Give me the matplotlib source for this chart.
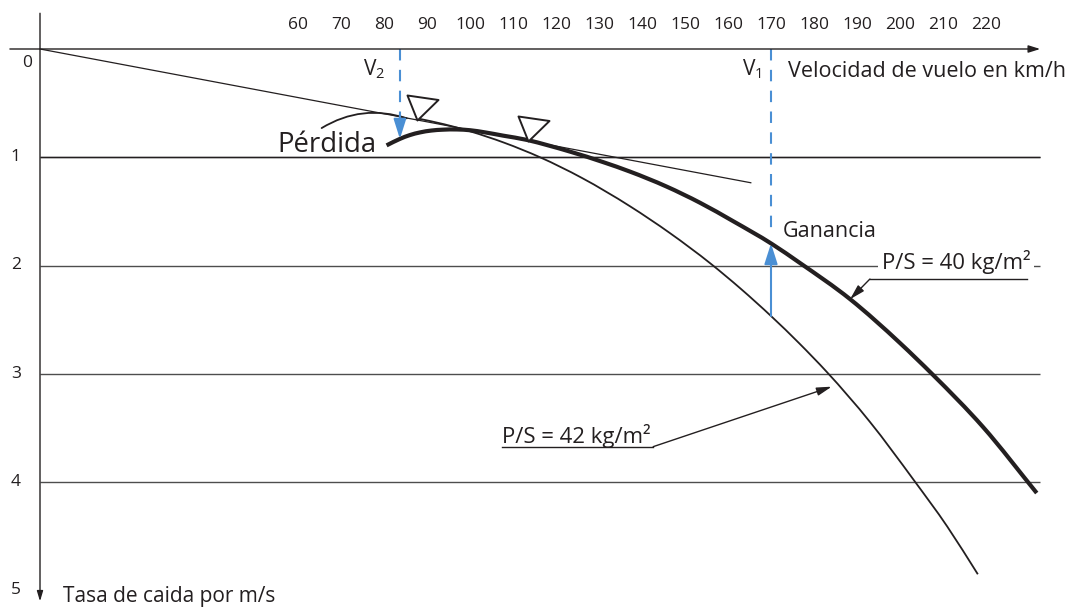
import numpy as np
import matplotlib.pyplot as plt
from matplotlib.markers import MarkerStyle
from matplotlib.path import Path
from matplotlib.patches import PathPatch

plt.rcParams["font.family"] = ["Open Sans", "DejaVu Sans"]
plt.rcParams["mathtext.fontset"] = "custom"
plt.rcParams["mathtext.rm"] = "Open Sans"

INK = "#231f20"
GRID = "#4d4d4d"
BLUE = "#4a8fd4"

# datos (velocidad km/h, tasa de caida m/s)
speed_ticks = [60, 70, 80, 90, 100, 110, 120, 130, 140, 150, 160, 170, 180, 190, 200, 210, 220]
sink_levels = [0, 1, 2, 3, 4, 5]

v40 = [80.6, 83.7, 86, 88.4, 91, 93.7, 97, 100, 103.5, 107.7, 113.3, 118, 123.3, 131, 137.2,
       145.7, 153.5, 161.2, 170.2, 176.7, 188.4, 200, 207.7, 219.3, 231.8]
y40 = [0.89, 0.83, 0.795, 0.77, 0.753, 0.745, 0.743, 0.75, 0.77, 0.80, 0.84, 0.888, 0.948, 1.045, 1.132,
       1.27, 1.42, 1.59, 1.80, 1.975, 2.31, 2.715, 3.01, 3.49, 4.10]

v42 = [87.7, 94, 100, 108, 116.3, 126, 137.2, 146.5, 156, 163, 170.2, 176.5, 183, 193, 203.2, 211, 218.1]
y42 = [0.64, 0.695, 0.76, 0.866, 1.0, 1.19, 1.452, 1.70, 1.983, 2.215, 2.473, 2.715, 2.983, 3.443,
       3.98, 4.41, 4.85]

tangent_v = [0, 165.3]
tangent_y = [0, 1.235]
tangent_points = [87.6, 113.6]

V1 = 170
V2 = 83.7
x_end = 232.6


def smooth_curve(xs, ys):
    # trazo suave (Hermite cubico en x) que pasa por los puntos leidos
    x = np.asarray(xs, float)
    y = np.asarray(ys, float)
    m = np.gradient(y, x)
    verts = [(x[0], y[0])]
    codes = [Path.MOVETO]
    for i in range(len(x) - 1):
        h = x[i + 1] - x[i]
        verts += [(x[i] + h / 3, y[i] + m[i] * h / 3),
                  (x[i + 1] - h / 3, y[i + 1] - m[i + 1] * h / 3),
                  (x[i + 1], y[i + 1])]
        codes += [Path.CURVE4] * 3
    return Path(verts, codes)


fig = plt.figure(figsize=(10.68, 6.07), dpi=100)
ax = fig.add_axes([0, 0, 1, 1])
ax.set_xlim(-40 / 4.3, (1068 - 40) / 4.3)
ax.set_ylim((607 - 49) / 108.3, -49 / 108.3)
ax.axis("off")

# ejes con flechas
ax.annotate("", xy=(x_end, 0), xytext=(-7, 0),
            arrowprops=dict(arrowstyle="-|>,head_length=0.7,head_width=0.22", color=INK,
                            lw=1.0, shrinkA=0, shrinkB=0))
ax.annotate("", xy=(0, 5.1), xytext=(0, -0.33),
            arrowprops=dict(arrowstyle="-|>,head_length=0.6,head_width=0.18", color=INK,
                            lw=1.0, shrinkA=0, shrinkB=0))
ax.hlines(sink_levels[1:5], 0, x_end, color=GRID, lw=1.0, zorder=1)
ax.hlines([1], 0, x_end, color=INK, lw=1.0, zorder=1)

for v in speed_ticks:
    ax.text(v, -0.185, str(v), ha="center", va="baseline", fontsize=12.5, color=INK)
for lv in sink_levels:
    if lv == 0:
        ax.text(-2.9, 0.165, "0", ha="center", va="baseline", fontsize=12.5, color=INK)
    else:
        ax.text(-5.6, lv + 0.035, str(lv), ha="center", va="baseline", fontsize=12.5, color=INK)

ax.text(174, 0.26, "Velocidad de vuelo en km/h", ha="left", va="baseline", fontsize=15.5, color=INK)
ax.text(5.35, 5.106, "Tasa de caida por m/s", ha="left", va="baseline", fontsize=15, color=INK)

# curvas polares
ax.plot(tangent_v, tangent_y, color=INK, lw=0.9, zorder=3)
ax.add_patch(PathPatch(smooth_curve(v42, y42), fill=False, edgecolor=INK, lw=1.3,
                       capstyle="butt", joinstyle="round", zorder=3))
ax.add_patch(PathPatch(smooth_curve(v40, y40), fill=False, edgecolor=INK, lw=3.0,
                       capstyle="butt", joinstyle="round", zorder=4))

tri = MarkerStyle(Path([(0, 0), (-10, 25), (21, 20.5), (0, 0)],
                       [Path.MOVETO, Path.LINETO, Path.LINETO, Path.CLOSEPOLY]))
ax.plot(tangent_points, np.interp(tangent_points, tangent_v, tangent_y), ls="none",
        marker=tri, markersize=36, markerfacecolor="white", markeredgecolor=INK,
        markeredgewidth=1.4, zorder=5)

# V2
y_v2 = np.interp(V2, v40, y40)
ax.plot([V2, V2], [0, 0.62], color=BLUE, lw=1.5, ls=(0, (5.5, 4.5)), zorder=2)
ax.annotate("", xy=(V2, y_v2), xytext=(V2, 0.6),
            arrowprops=dict(arrowstyle="-|>,head_length=1.2,head_width=0.38", color=BLUE,
                            lw=1.5, shrinkA=0, shrinkB=0), zorder=6)
ax.text(75.1, 0.24, "V$_{\\mathrm{2}}$", ha="left", va="baseline", fontsize=15, color=INK)

# V1
y_hi = np.interp(V1, v40, y40)
y_lo = np.interp(V1, v42, y42)
ax.plot([V1, V1], [0, y_hi - 0.1], color=BLUE, lw=1.5, ls=(0, (5.5, 4.5)), zorder=2)
ax.annotate("", xy=(V1, y_hi), xytext=(V1, y_lo),
            arrowprops=dict(arrowstyle="-|>,head_length=1.25,head_width=0.4", color=BLUE,
                            lw=1.5, shrinkA=0, shrinkB=0), zorder=6)
ax.text(163.3, 0.24, "V$_{\\mathrm{1}}$", ha="left", va="baseline", fontsize=15, color=INK)
ax.text(172.8, 1.736, "Ganancia", ha="left", va="baseline", fontsize=15.5, color=INK)

# Perdida
ax.text(55.1, 0.951, "Pérdida", ha="left", va="baseline", fontsize=19.8, color=INK)
ax.annotate("", xy=(85.3, 0.64), xytext=(65.5, 0.73),
            arrowprops=dict(arrowstyle="-", color=INK, lw=1.3, shrinkA=0, shrinkB=0,
                            connectionstyle="arc3,rad=-0.23"))

# etiquetas P/S
ax.text(195.8, 2.031, "P/S = 40 kg/m²", ha="left", va="baseline", fontsize=15.9, color=INK,
        bbox=dict(facecolor="white", edgecolor="none", pad=2.5), zorder=5)
ax.plot([193, 229.5], [2.124, 2.124], color=INK, lw=1.0)
ax.annotate("", xy=(188.4, np.interp(188.4, v40, y40)), xytext=(193, 2.124),
            arrowprops=dict(arrowstyle="-|>,head_length=0.9,head_width=0.25", color=INK,
                            lw=1.0, shrinkA=0, shrinkB=0))

ax.text(107.4, 3.638, "P/S = 42 kg/m²", ha="left", va="baseline", fontsize=15.9, color=INK)
ax.plot([107.4, 142.6], [3.672, 3.672], color=INK, lw=1.0)
ax.annotate("", xy=(184.1, 3.118), xytext=(142.6, 3.672),
            arrowprops=dict(arrowstyle="-|>,head_length=0.9,head_width=0.25", color=INK,
                            lw=1.0, shrinkA=0, shrinkB=0))

fig.savefig("out.png", dpi=100, facecolor="white")
